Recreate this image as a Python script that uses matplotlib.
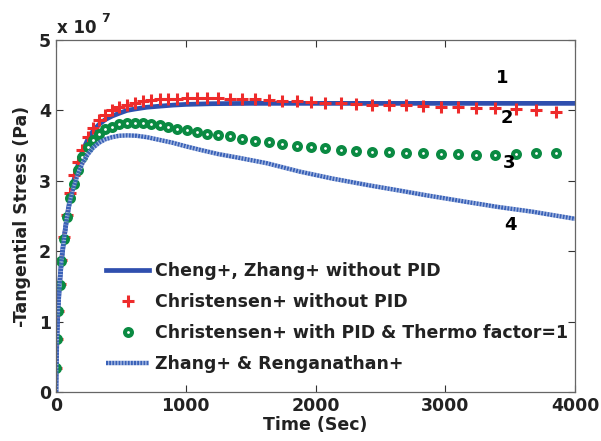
import numpy as np
import matplotlib.pyplot as plt

# marker sample times (s) shared by the two marker series
t_mark = [2, 7, 15, 27, 42, 61, 83, 108, 137, 169, 204, 243, 286, 331, 380, 433,
          488, 546, 606, 668, 732, 798, 866, 936, 1008, 1084, 1164, 1250, 1340,
          1435, 1535, 1640, 1745, 1855, 1965, 2076, 2194, 2312, 2438, 2566, 2698,
          2831, 2965, 3096, 3237, 3386, 3545, 3697, 3854]

# Christensen+ without PID (x1e7 Pa)
chris_nopid = [0.34, 0.75, 1.15, 1.53, 1.88, 2.20, 2.52, 2.82, 3.08, 3.27, 3.44,
               3.62, 3.75, 3.86, 3.94, 4.00, 4.05, 4.08, 4.11, 4.13, 4.145, 4.155,
               4.16, 4.165, 4.17, 4.17, 4.17, 4.17, 4.165, 4.16, 4.155, 4.15, 4.14,
               4.13, 4.12, 4.11, 4.10, 4.09, 4.08, 4.075, 4.07, 4.06, 4.055, 4.05,
               4.04, 4.03, 4.02, 4.00, 3.98]

# Christensen+ with PID & thermo factor = 1
chris_pid = [0.34, 0.75, 1.15, 1.52, 1.86, 2.17, 2.48, 2.76, 2.95, 3.15, 3.34,
             3.48, 3.58, 3.66, 3.73, 3.77, 3.80, 3.815, 3.82, 3.82, 3.81, 3.79,
             3.77, 3.74, 3.72, 3.69, 3.67, 3.65, 3.63, 3.60, 3.57, 3.55, 3.52,
             3.50, 3.48, 3.46, 3.44, 3.43, 3.41, 3.41, 3.40, 3.39, 3.38, 3.38,
             3.37, 3.37, 3.38, 3.39, 3.40]

# Cheng+, Zhang+ without PID
t_cheng = [0, 2, 7, 15, 27, 42, 61, 83, 108, 137, 169, 204, 243, 286, 331, 380,
           433, 488, 548, 610, 700, 800, 900, 1000, 1200, 1500, 2000, 3000, 4000]
cheng = [0, 0.34, 0.75, 1.15, 1.52, 1.86, 2.17, 2.47, 2.74, 3.00, 3.22, 3.42,
         3.58, 3.71, 3.80, 3.87, 3.92, 3.96, 4.00, 4.02, 4.045, 4.06, 4.075,
         4.085, 4.095, 4.10, 4.10, 4.10, 4.10]

# Zhang+ & Renganathan+
t_zhang = [0, 2, 7, 15, 27, 42, 61, 83, 108, 137, 169, 204, 243, 286, 331, 380,
           433, 488, 550, 620, 700, 800, 900, 1000, 1110, 1250, 1400, 1624, 1880,
           2135, 2400, 2651, 2900, 3165, 3400, 3676, 4000]
zhang = [0, 0.34, 0.75, 1.15, 1.52, 1.86, 2.17, 2.46, 2.72, 2.92, 3.10, 3.25,
         3.37, 3.47, 3.54, 3.59, 3.62, 3.64, 3.645, 3.64, 3.62, 3.58, 3.54, 3.49,
         3.44, 3.38, 3.33, 3.25, 3.13, 3.03, 2.94, 2.86, 2.78, 2.70, 2.63, 2.56,
         2.46]

labels = ['Cheng+, Zhang+ without PID',
          'Christensen+ without PID',
          'Christensen+ with PID & Thermo factor=1',
          'Zhang+ & Renganathan+']

# curve tags: (x, y, text)
tags = [(3435, 4.46, '1'), (3475, 3.89, '2'), (3490, 3.25, '3'), (3500, 2.37, '4')]

plt.rcParams['font.family'] = 'DejaVu Sans'
plt.rcParams['font.weight'] = 'bold'

fig = plt.figure(figsize=(6.01, 4.41), dpi=100)
ax = fig.add_axes([56 / 601, 1 - 392 / 441, 519 / 601, 352 / 441])

ax.plot(t_cheng, cheng, color='#2f4fae', lw=3.4, label=labels[0])
ax.plot(t_mark, chris_nopid, ls='none', marker='+', ms=8, mew=2.2,
        color='#ee2b2b', label=labels[1])
ax.plot(t_mark, chris_pid, ls='none', marker='o', ms=5.0, mew=2.9,
        mec='#0a8a42', mfc='white', label=labels[2])
ax.plot(t_zhang, zhang, color='#3a62b8', lw=3.2, ls=(0, (0.45, 0.25)),
        gapcolor='#9cb1e0', label=labels[3])

for x, y, s in tags:
    ax.text(x, y, s, fontsize=13, fontweight='bold', ha='center', va='center')

ax.set_xlim(0, 4000)
ax.set_ylim(0, 5)
ax.set_xticks([0, 1000, 2000, 3000, 4000])
ax.set_yticks([0, 1, 2, 3, 4, 5])
ax.tick_params(direction='in', top=True, right=True, length=5, width=0.8,
               labelsize=12.5, colors='#333333', labelcolor='#222222')
for lab in ax.get_xticklabels() + ax.get_yticklabels():
    lab.set_fontweight('bold')
for sp in ax.spines.values():
    sp.set_color('#666666')
    sp.set_linewidth(0.9)

ax.set_xlabel('Time (Sec)', fontsize=12.5, fontweight='bold', color='#222222', labelpad=1)
ax.set_ylabel('-Tangential Stress (Pa)', fontsize=12.5, fontweight='bold',
              color='#222222', labelpad=6)

fig.text(57 / 601, 1 - 33 / 441, 'x 10', fontsize=12, fontweight='bold',
         color='#222222', ha='left', va='baseline')
fig.text(101 / 601, 1 - 22 / 441, '7', fontsize=9, fontweight='bold',
         color='#222222', ha='left', va='baseline')

leg = ax.legend(loc='upper left', bbox_to_anchor=(50 / 519, (392 - 262) / 352),
                frameon=False, fontsize=12.5, numpoints=1, handlelength=2.5,
                handletextpad=0.3, labelspacing=0.75, borderpad=0, borderaxespad=0)
for txt in leg.get_texts():
    txt.set_color('#222222')

fig.savefig('out.png', dpi=100)
